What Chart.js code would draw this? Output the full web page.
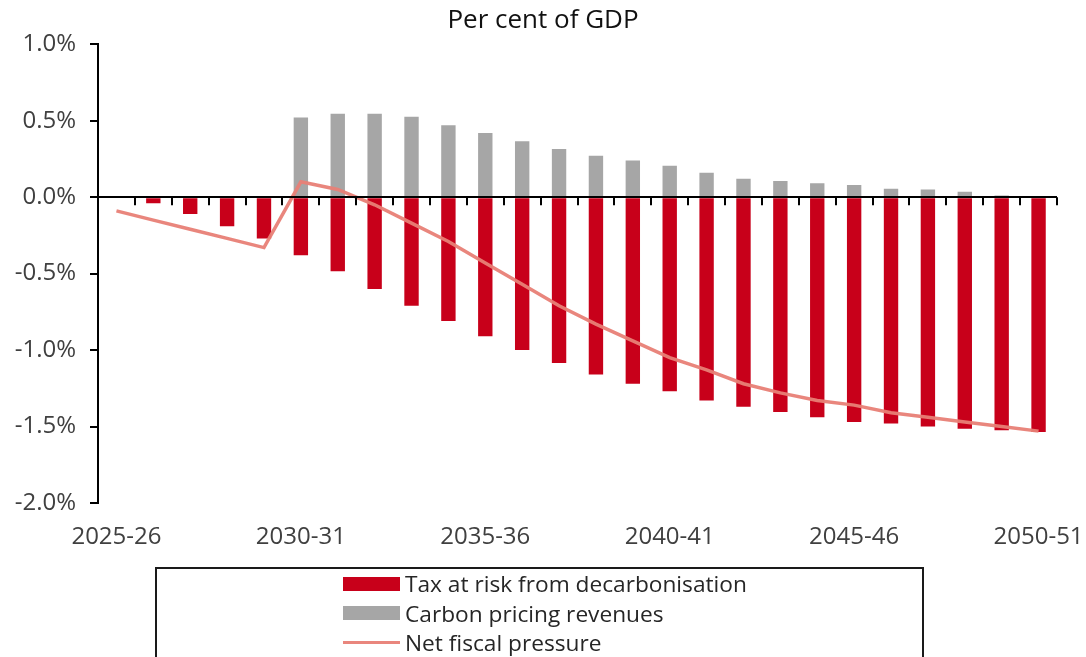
<!DOCTYPE html>
<html>
<head>
<meta charset="utf-8">
<title>Per cent of GDP</title>
<script src="https://cdn.jsdelivr.net/npm/chart.js@4.4.0/dist/chart.umd.min.js"></script>
<style>
  body { margin: 0; background: #fff; }
  #wrap { position: relative; width: 1086px; height: 657px; overflow: hidden; }
  #legend {
    position: absolute; left: 155px; top: 567px; width: 769px; height: 120px;
    box-sizing: border-box; border: 2px solid #1a1a1a;
    margin: 0; padding: 0 0 0 186px; list-style: none;
    font: 22.7px 'Open Sans', sans-serif; color: #262626;
  }
  #legend li { display: flex; align-items: center; height: 29.5px; }
  #legend .swatch { display: inline-block; width: 57px; margin-right: 5px; }
</style>
</head>
<body>
<div id="wrap">
  <canvas id="chart" width="1086" height="657"></canvas>
  <ul id="legend"></ul>
</div>
<script>
const categories = [
  "2025-26", "2026-27", "2027-28", "2028-29", "2029-30",
  "2030-31", "2031-32", "2032-33", "2033-34", "2034-35",
  "2035-36", "2036-37", "2037-38", "2038-39", "2039-40",
  "2040-41", "2041-42", "2042-43", "2043-44", "2044-45",
  "2045-46", "2046-47", "2047-48", "2048-49", "2049-50",
  "2050-51"
];

// per cent of GDP
const taxAtRisk = [
  0, -0.04, -0.11, -0.19, -0.27,
  -0.38, -0.485, -0.60, -0.71, -0.81,
  -0.91, -1.00, -1.085, -1.16, -1.22,
  -1.27, -1.33, -1.37, -1.405, -1.44,
  -1.47, -1.48, -1.50, -1.515, -1.525,
  -1.535
];
const carbonPricing = [
  0, 0, 0, 0, 0,
  0.52, 0.545, 0.545, 0.525, 0.47,
  0.42, 0.365, 0.315, 0.27, 0.24,
  0.205, 0.16, 0.12, 0.105, 0.09,
  0.08, 0.055, 0.05, 0.035, 0.01,
  0
];
const netPressure = [
  -0.09, -0.15, -0.21, -0.27, -0.33,
  0.10, 0.05, -0.05, -0.17, -0.29,
  -0.43, -0.57, -0.71, -0.83, -0.94,
  -1.05, -1.13, -1.22, -1.28, -1.33,
  -1.36, -1.41, -1.44, -1.47, -1.50,
  -1.53
];
const yTicks = [-2.0, -1.5, -1.0, -0.5, 0.0, 0.5, 1.0];

const RED = "#c8001a";
const GREY = "#a6a6a6";
const PINK = "rgba(232, 128, 118, 0.95)";

Chart.defaults.font.family = "'Open Sans', sans-serif";
Chart.defaults.color = "#404040";

// small tick marks hanging below the zero line between categories
const boundaryTicks = {
  id: "boundaryTicks",
  afterDatasetsDraw(chart) {
    const { ctx, scales: { x, y } } = chart;
    const y0 = y.getPixelForValue(0);
    const half = (x.getPixelForValue(1) - x.getPixelForValue(0)) / 2;
    ctx.save();
    ctx.strokeStyle = "#000";
    ctx.lineWidth = 2;
    ctx.beginPath();
    for (let i = 0; i < categories.length; i++) {
      const px = Math.round(x.getPixelForValue(i) + half);
      ctx.moveTo(px, y0);
      ctx.lineTo(px, y0 + 8);
    }
    ctx.stroke();
    ctx.restore();
  }
};

// legend as a plain list under the chart, one entry per line
const htmlLegend = {
  id: "htmlLegend",
  afterUpdate(chart) {
    const list = document.getElementById("legend");
    list.innerHTML = "";
    const items = chart.options.plugins.legend.labels.generateLabels(chart)
      .sort((a, b) => a.datasetIndex - b.datasetIndex);
    items.forEach((item) => {
      const ds = chart.data.datasets[item.datasetIndex];
      const li = document.createElement("li");
      const box = document.createElement("span");
      box.className = "swatch";
      if (ds.type === "line") {
        box.style.height = "3px";
        box.style.background = ds.borderColor;
      } else {
        box.style.height = "14px";
        box.style.background = ds.backgroundColor;
      }
      const text = document.createElement("span");
      text.textContent = item.text;
      li.appendChild(box);
      li.appendChild(text);
      list.appendChild(li);
    });
  }
};

new Chart(document.getElementById("chart"), {
  type: "bar",
  data: {
    labels: categories,
    datasets: [
      {
        label: "Tax at risk from decarbonisation",
        data: taxAtRisk,
        backgroundColor: RED,
        grouped: false,
        barPercentage: 0.39,
        categoryPercentage: 1
      },
      {
        label: "Carbon pricing revenues",
        data: carbonPricing,
        backgroundColor: GREY,
        grouped: false,
        barPercentage: 0.39,
        categoryPercentage: 1
      },
      {
        type: "line",
        label: "Net fiscal pressure",
        data: netPressure,
        borderColor: PINK,
        backgroundColor: PINK,
        borderWidth: 3.5,
        pointRadius: 0,
        tension: 0,
        order: -1
      }
    ]
  },
  options: {
    responsive: false,
    animation: false,
    layout: { padding: { top: 0, right: 0, bottom: 94, left: 0 } },
    plugins: {
      legend: { display: false },
      tooltip: { enabled: false },
      title: {
        display: true,
        text: "Per cent of GDP",
        color: "#111",
        font: { size: 26, weight: "normal" },
        padding: { top: 5, bottom: 8 }
      }
    },
    scales: {
      x: {
        offset: true,
        grid: { display: false, drawTicks: false },
        border: { display: false },
        ticks: {
          autoSkip: false,
          maxRotation: 0,
          padding: 20,
          font: { size: 24 },
          callback: (v, i) => (i % 5 === 0 ? categories[i] : "")
        },
        afterFit: (scale) => {
          scale.height = 60;
          scale.paddingLeft = 0;
          scale.paddingRight = 29;
        }
      },
      y: {
        min: -2,
        max: 1,
        afterBuildTicks: (scale) => {
          scale.ticks = yTicks.map((v) => ({ value: v }));
        },
        grid: {
          z: 1,
          lineWidth: 2,
          tickLength: 8,
          tickColor: "#000",
          color: (c) => (c.tick && c.tick.value === 0 ? "#000" : "rgba(0,0,0,0)")
        },
        border: { display: true, color: "#000", width: 2, z: 1 },
        ticks: {
          padding: 14,
          font: { size: 24 },
          callback: (v) => v.toFixed(1) + "%"
        },
        afterFit: (scale) => { scale.width = 98; }
      }
    }
  },
  plugins: [boundaryTicks, htmlLegend]
});
</script>
</body>
</html>
